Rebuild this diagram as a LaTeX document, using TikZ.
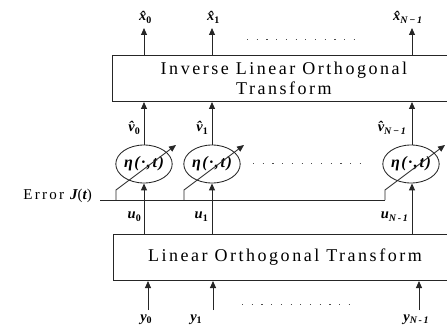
\documentclass[tikz,border=0pt]{standalone}
\usepackage{fontspec}
\setmainfont{Liberation Serif}[LetterSpace=10]
\newfontfamily\boxfont{Liberation Serif}[LetterSpace=14]
\newfontfamily\errfont{Liberation Serif}[LetterSpace=15]
\usetikzlibrary{arrows.meta,shapes.geometric}
\newcommand{\bi}[1]{{\bfseries\itshape #1}}
\newcommand{\lsub}[1]{\raisebox{-0.45ex}{\fontsize{10}{10}\selectfont\bfseries #1}}
\begin{document}
\begin{tikzpicture}[x=1pt,y=1pt,
  ln/.style={draw=black!85, line width=0.85pt},
  arr/.style={ln, -{Triangle[width=6pt,length=7pt]}},
  tbox/.style={ln, rectangle, minimum width=343pt, minimum height=46pt, inner sep=0pt, anchor=south west, align=center, font=\boxfont\fontsize{18}{20}\selectfont},
  fn/.style={ln, ellipse, minimum width=55pt, minimum height=38pt, inner sep=0pt, font=\fontsize{16}{16}\selectfont\bfseries\itshape},
  lab/.style={inner sep=0pt, font=\fontsize{14.5}{14.5}\selectfont},
  dotl/.style={draw=black!70, line width=0.7pt, dash pattern=on 1.2pt off 8.5pt}
]
\useasboundingbox (0,0) rectangle (447,327);
% boxes
\node[tbox] (itx) at (112,225) {Inverse Linear Orthogonal\\Transform};
\node[tbox] (lot) at (113,46) {Linear Orthogonal Transform};
% function ellipses
\node[fn] (e0) at (144,163) {η(·,t)};
\node[fn] (e1) at (212,163) {η(·,t)};
\node[fn] (e2) at (411,163) {η(·,t)};
% outputs
\coordinate (o0) at (144,299);
\coordinate (o1) at (212,299);
\coordinate (o2) at (412,299);
\draw[arr] (itx.north -| o0) -- (o0);
\draw[arr] (itx.north -| o1) -- (o1);
\draw[arr] (itx.north -| o2) -- (o2);
\node[lab, anchor=base west] (lx0) at (139,306) {\bi{\^x}\lsub{0}};
\node[lab, anchor=base west] (lx1) at (207,306) {\bi{\^x}\lsub{1}};
\node[lab, anchor=base west] (lx2) at (393,306) {\bi{\^x}\lsub{\itshape N\,−\,1}};
% v hat
\draw[arr] (e0.north) -- (e0.north |- itx.south);
\draw[arr] (e1.north) -- (e1.north |- itx.south);
\draw[arr] (e2.north -| o2) -- (o2 |- itx.south);
\node[lab, anchor=east] (lv0) at (140,199) {\bi{\^v}\lsub{0}};
\node[lab, anchor=east] (lv1) at (208,199) {\bi{\^v}\lsub{1}};
\node[lab, anchor=east] (lv2) at (406,199) {\bi{\^v}\lsub{\itshape N\,−\,1}};
% u
\draw[arr] (lot.north -| e0) -- (e0.south);
\draw[arr] (lot.north -| e1) -- (e1.south);
\draw[arr] (lot.north -| o2) -- (e2.south -| o2);
\node[lab, anchor=east] (lu0) at (141,110) {\bi{u}\lsub{0}};
\node[lab, anchor=east] (lu1) at (208,110) {\bi{u}\lsub{1}};
\node[lab, anchor=east] (lu2) at (408,110) {\bi{u}\lsub{\itshape N\,-\,1}};
% inputs
\coordinate (i0) at (148,17);
\coordinate (i1) at (213,17);
\coordinate (i2) at (419,17);
\draw[arr] (i0) -- (i0 |- lot.south);
\draw[arr] (i1) -- (i1 |- lot.south);
\draw[arr] (i2) -- (i2 |- lot.south);
\node[lab, anchor=base] (ly0) at (146,6) {\bi{y}\lsub{0}};
\node[lab, anchor=base] (ly1) at (196,6) {\bi{y}\lsub{1}};
\node[lab, anchor=base] (ly2) at (416,6) {\bi{y}\lsub{\itshape N\,-\,1}};
% dots
\coordinate (da) at (247,288); \coordinate (db) at (355,288);
\draw[dotl] (da) -- (db);
\coordinate (dc) at (253,164); \coordinate (dd) at (360,164);
\draw[dotl] (dc) -- (dd);
\coordinate (de) at (242,23); \coordinate (df) at (350,23);
\draw[dotl] (de) -- (df);
% error line
\coordinate (err) at (100,127);
\coordinate (k0) at (116,127);
\coordinate (k1) at (184,127);
\coordinate (k2) at (385,127);
\coordinate (t0) at (176,182);
\coordinate (t1) at (244,182);
\coordinate (t2) at (445,182);
\node[lab, anchor=base east, font=\errfont\fontsize{15}{15}\selectfont] (errl) at (92,128) {Error \bi{J}(\bi{t})};
\draw[ln] (err) -- (k2);
\draw[arr] (k0) -- ++(0,10) -- (t0);
\draw[arr] (k1) -- ++(0,10) -- (t1);
\draw[arr] (k2) -- ++(0,10) -- (t2);
\end{tikzpicture}
\end{document}
